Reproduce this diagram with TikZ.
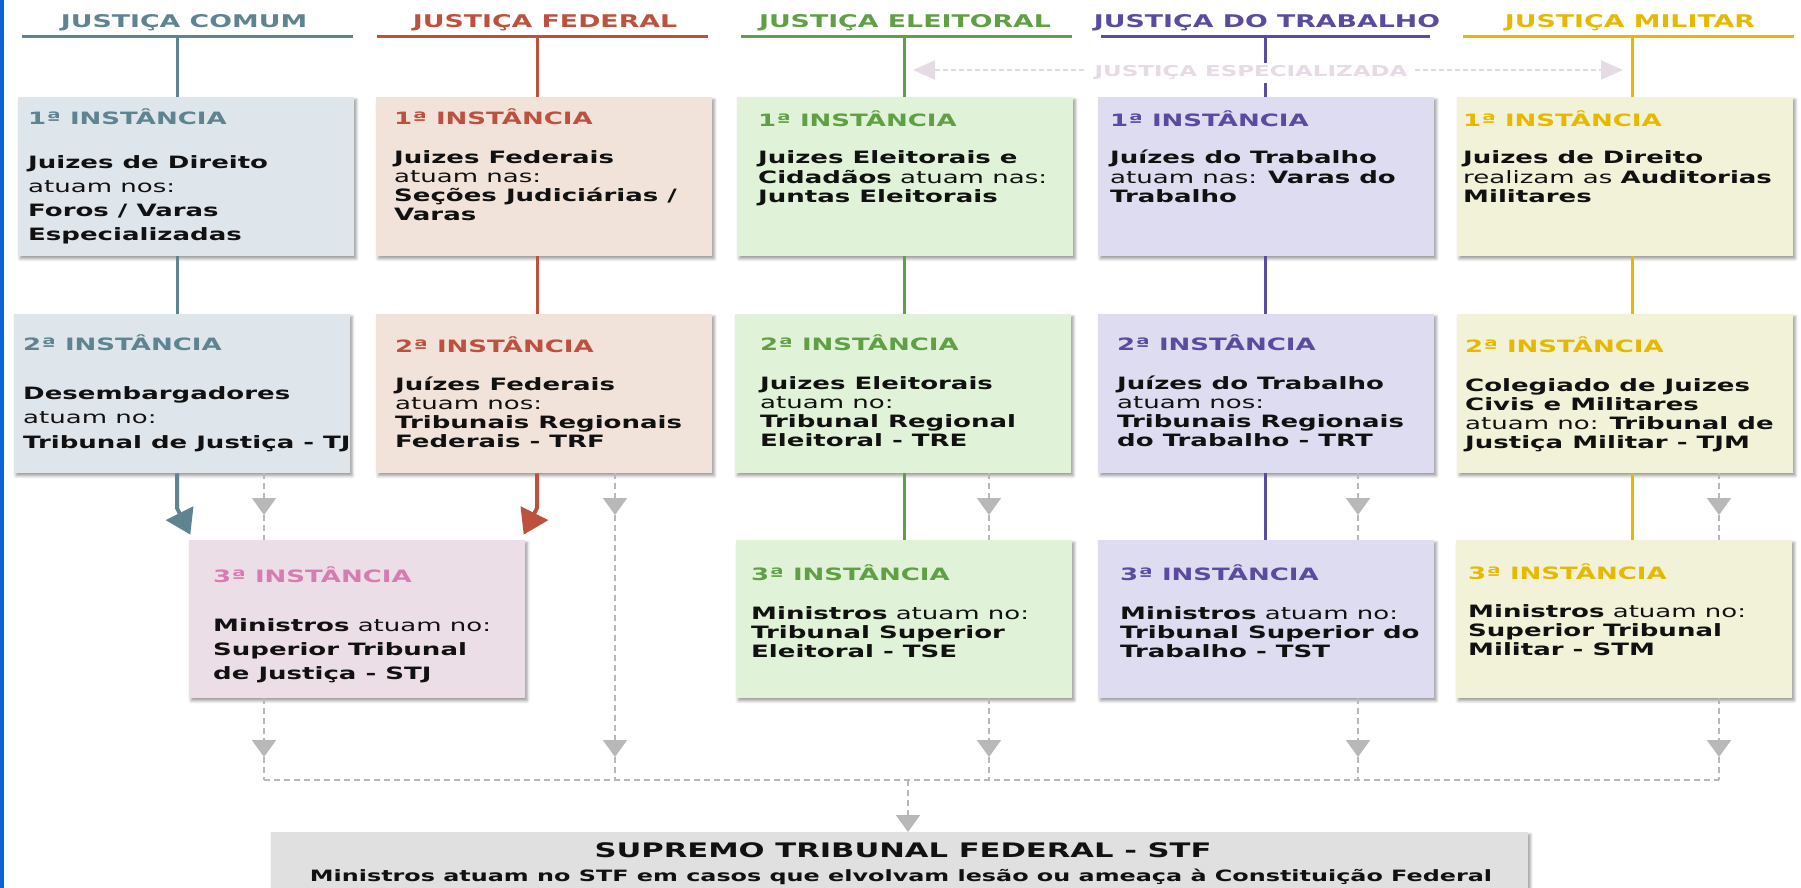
\documentclass[tikz,border=0pt]{standalone}
\usepackage{fontspec}
\setmainfont[FakeStretch=1.53]{DejaVu Sans}
\usetikzlibrary{arrows.meta,shadows.blur}
\definecolor{comumc}{RGB}{94,131,145}
\definecolor{federalc}{RGB}{190,80,62}
\definecolor{eleitc}{RGB}{96,160,68}
\definecolor{trabc}{RGB}{90,74,160}
\definecolor{milc}{RGB}{230,184,0}
\definecolor{stjc}{RGB}{214,124,176}
\definecolor{comumf}{RGB}{222,229,235}
\definecolor{federalf}{RGB}{241,227,218}
\definecolor{eleitf}{RGB}{224,242,215}
\definecolor{trabf}{RGB}{221,220,240}
\definecolor{milf}{RGB}{242,242,216}
\definecolor{stjf}{RGB}{236,222,230}
\definecolor{stff}{RGB}{224,224,224}
\definecolor{dgray}{RGB}{184,184,184}
\definecolor{espc}{RGB}{230,218,228}
\definecolor{leftblue}{RGB}{10,100,215}
\definecolor{bodyc}{RGB}{17,17,17}
\newcommand\bl[2]{\vtop{\baselineskip=#1pt\lineskiplimit=-50pt\lineskip=0pt\halign{##\hfil\cr#2\crcr}}}
\tikzset{
  box/.style={fill=#1, draw=none, minimum width=336pt, minimum height=159pt, anchor=north west, inner sep=0pt,
    blur shadow={shadow xshift=2pt, shadow yshift=-2.5pt, shadow blur radius=3pt, shadow opacity=40}},
  ttl/.style={anchor=base west, inner sep=0pt, font=\bfseries\fontsize{17}{19}\selectfont},
  txt/.style={anchor=base west, inner sep=0pt, text=bodyc, font=\fontsize{17}{19}\selectfont},
  hdr/.style={anchor=base, inner sep=0pt, font=\bfseries\fontsize{17.5}{20}\selectfont},
  conn/.style={line width=3pt},
  gdash/.style={draw=dgray, line width=2pt, dash pattern=on 6pt off 4pt},
  garrow/.style={gdash, -{Triangle[width=24pt,length=17pt]}},
  sarrow/.style={line width=4pt, -{Triangle[width=30pt,length=24pt]}, shorten >=6pt},
}
\begin{document}
\begin{tikzpicture}[x=1pt,y=-1pt]
\path[use as bounding box] (0,0) rectangle (1801,888);
\fill[leftblue] (0,0) rectangle (4,888);

% headers
\node[hdr, text=comumc] (hC) at (184,28) {JUSTIÇA COMUM};
\node[hdr, text=federalc] (hF) at (545,28) {JUSTIÇA FEDERAL};
\node[hdr, text=eleitc] (hE) at (905,28) {JUSTIÇA ELEITORAL};
\node[hdr, text=trabc] (hT) at (1267,28) {JUSTIÇA DO TRABALHO};
\node[hdr, text=milc] (hM) at (1630,28) {JUSTIÇA MILITAR};
\draw[conn, comumc] (22,37) -- (353,37);
\draw[conn, federalc] (377,37) -- (708,37);
\draw[conn, eleitc] (741,37) -- (1072,37);
\draw[conn, trabc] (1101,37) -- (1430,37);
\draw[conn, milc] (1463,37) -- (1794,37);
\coordinate (vC) at (177,37);
\coordinate (vF) at (537,37);
\coordinate (vE) at (904,37);
\coordinate (vT) at (1265,37);
\coordinate (vM) at (1632,37);

% boxes row 1
\node[box=comumf] (c1) at (18,97) {};
\node[box=federalf] (f1) at (376,97) {};
\node[box=eleitf] (e1) at (737,97) {};
\node[box=trabf] (t1) at (1098,97) {};
\node[box=milf] (m1) at (1457,97) {};
% row 2
\node[box=comumf] (c2) at (14,314) {};
\node[box=federalf] (f2) at (376,314) {};
\node[box=eleitf] (e2) at (735,314) {};
\node[box=trabf] (t2) at (1098,314) {};
\node[box=milf] (m2) at (1457,314) {};
% row 3
\node[box=stjf, minimum height=158pt] (stj) at (189,540) {};
\node[box=eleitf, minimum height=158pt] (e3) at (736,540) {};
\node[box=trabf, minimum height=158pt] (t3) at (1098,540) {};
\node[box=milf, minimum height=158pt] (m3) at (1456,540) {};
% STF
\node[box=stff, minimum width=1257pt, minimum height=80pt] (stf) at (271,832) {};

% solid connectors
\draw[conn, comumc] (vC) -- (c1.north -| vC);
\draw[conn, comumc] (c1.south -| vC) -- (c2.north -| vC);
\coordinate (kC) at (177,508);
\coordinate (tC) at (193,540);
\draw[sarrow, comumc] (c2.south -| vC) -- (kC) -- (tC);
\draw[conn, federalc] (vF) -- (f1.north -| vF);
\draw[conn, federalc] (f1.south -| vF) -- (f2.north -| vF);
\coordinate (kF) at (537,508);
\coordinate (tF) at (521,540);
\draw[sarrow, federalc] (f2.south -| vF) -- (kF) -- (tF);
\draw[conn, eleitc] (vE) -- (e1.north -| vE);
\draw[conn, eleitc] (e1.south -| vE) -- (e2.north -| vE);
\draw[conn, eleitc] (e2.south -| vE) -- (e3.north -| vE);
\draw[conn, trabc] (vT) -- (t1.north -| vT);
\draw[conn, trabc] (t1.south -| vT) -- (t2.north -| vT);
\draw[conn, trabc] (t2.south -| vT) -- (t3.north -| vT);
\draw[conn, milc] (vM) -- (m1.north -| vM);
\draw[conn, milc] (m1.south -| vM) -- (m2.north -| vM);
\draw[conn, milc] (m2.south -| vM) -- (m3.north -| vM);

% especializada
\coordinate (espL) at (913,70);
\coordinate (espR) at (1623,70);
\draw[draw=espc, line width=2pt, dash pattern=on 5pt off 3pt, {Triangle[width=19pt,length=22pt]}-{Triangle[width=19pt,length=22pt]}] (espL) -- (espR);
\node[anchor=base, fill=white, inner xsep=8pt, inner ysep=3pt, text=espc, font=\bfseries\fontsize{15}{17}\selectfont] (esp) at (1251,77) {JUSTIÇA ESPECIALIZADA};

% gray dashed connectors
\coordinate (gC1) at (264,515); \coordinate (gC2) at (264,757); \coordinate (gC3) at (264,780);
\coordinate (gF1) at (615,515); \coordinate (gF2) at (615,757); \coordinate (gF3) at (615,780);
\coordinate (gE1) at (989,515); \coordinate (gE2) at (989,757); \coordinate (gE3) at (989,780);
\coordinate (gT1) at (1358,515); \coordinate (gT2) at (1358,757); \coordinate (gT3) at (1358,780);
\coordinate (gM1) at (1719,515); \coordinate (gM2) at (1719,757); \coordinate (gM3) at (1719,780);
\coordinate (gS) at (908,780);
\draw[garrow] (c2.south -| gC1) -- (gC1);
\draw[gdash] (gC1) -- (stj.north -| gC1);
\draw[garrow] (stj.south -| gC1) -- (gC2);
\draw[gdash] (gC2) -- (gC3);
\draw[garrow] (f2.south -| gF1) -- (gF1);
\draw[garrow] (gF1) -- (gF2);
\draw[gdash] (gF2) -- (gF3);
\draw[garrow] (e2.south -| gE1) -- (gE1);
\draw[gdash] (gE1) -- (e3.north -| gE1);
\draw[garrow] (e3.south -| gE1) -- (gE2);
\draw[gdash] (gE2) -- (gE3);
\draw[garrow] (t2.south -| gT1) -- (gT1);
\draw[gdash] (gT1) -- (t3.north -| gT1);
\draw[garrow] (t3.south -| gT1) -- (gT2);
\draw[gdash] (gT2) -- (gT3);
\draw[garrow] (m2.south -| gM1) -- (gM1);
\draw[gdash] (gM1) -- (m3.north -| gM1);
\draw[garrow] (m3.south -| gM1) -- (gM2);
\draw[gdash] (gM2) -- (gM3);
\draw[gdash] (gC3) -- (gM3);
\draw[garrow] (gS) -- (stf.north -| gS);

% texts row 1
\node[ttl, text=comumc] (c1t) at (28,124.5) {1ª INSTÂNCIA};
\node[txt] (c1b) at (28,168) {\bl{24.3}{\textbf{Juizes de Direito}\cr atuam nos:\cr\textbf{Foros / Varas}\cr\textbf{Especializadas}}};
\node[ttl, text=federalc] (f1t) at (394,124.5) {1ª INSTÂNCIA};
\node[txt] (f1b) at (394,163) {\bl{19}{\textbf{Juizes Federais}\cr atuam nas:\cr\textbf{Seções Judiciárias /}\cr\textbf{Varas}}};
\node[ttl, text=eleitc] (e1t) at (758,126.5) {1ª INSTÂNCIA};
\node[txt] (e1b) at (758,164) {\bl{19.5}{\textbf{Juizes Eleitorais e}\cr\textbf{Cidadãos} atuam nas:\cr\textbf{Juntas Eleitorais}}};
\node[ttl, text=trabc] (t1t) at (1110,126.5) {1ª INSTÂNCIA};
\node[txt] (t1b) at (1110,164) {\bl{19.5}{\textbf{Juízes do Trabalho}\cr atuam nas: \textbf{Varas do}\cr\textbf{Trabalho}}};
\node[ttl, text=milc] (m1t) at (1463,126.5) {1ª INSTÂNCIA};
\node[txt] (m1b) at (1463,164) {\bl{19.5}{\textbf{Juizes de Direito}\cr realizam as \textbf{Auditorias}\cr\textbf{Militares}}};

% texts row 2
\node[ttl, text=comumc] (c2t) at (23,350.5) {2ª INSTÂNCIA};
\node[txt] (c2b) at (23,399) {\bl{24.5}{\textbf{Desembargadores}\cr atuam no:\cr\textbf{Tribunal de Justiça - TJ}}};
\node[ttl, text=federalc] (f2t) at (395,352.5) {2ª INSTÂNCIA};
\node[txt] (f2b) at (395,390) {\bl{19.3}{\textbf{Juízes Federais}\cr atuam nos:\cr\textbf{Tribunais Regionais}\cr\textbf{Federais - TRF}}};
\node[ttl, text=eleitc] (e2t) at (760,350.5) {2ª INSTÂNCIA};
\node[txt] (e2b) at (760,389) {\bl{19.3}{\textbf{Juizes Eleitorais}\cr atuam no:\cr\textbf{Tribunal Regional}\cr\textbf{Eleitoral - TRE}}};
\node[ttl, text=trabc] (t2t) at (1117,350.5) {2ª INSTÂNCIA};
\node[txt] (t2b) at (1117,389) {\bl{19.3}{\textbf{Juízes do Trabalho}\cr atuam nos:\cr\textbf{Tribunais Regionais}\cr\textbf{do Trabalho - TRT}}};
\node[ttl, text=milc] (m2t) at (1465,352.5) {2ª INSTÂNCIA};
\node[txt] (m2b) at (1465,391) {\bl{19.3}{\textbf{Colegiado de Juizes}\cr\textbf{Civis e Militares}\cr atuam no: \textbf{Tribunal de}\cr\textbf{Justiça Militar - TJM}}};

% texts row 3
\node[ttl, text=stjc] (stjt) at (213,582.5) {3ª INSTÂNCIA};
\node[txt] (stjb) at (213,631) {\bl{24}{\textbf{Ministros} atuam no:\cr\textbf{Superior Tribunal}\cr\textbf{de Justiça - STJ}}};
\node[ttl, text=eleitc] (e3t) at (751,580.5) {3ª INSTÂNCIA};
\node[txt] (e3b) at (751,619) {\bl{19}{\textbf{Ministros} atuam no:\cr\textbf{Tribunal Superior}\cr\textbf{Eleitoral - TSE}}};
\node[ttl, text=trabc] (t3t) at (1120,580.5) {3ª INSTÂNCIA};
\node[txt] (t3b) at (1120,619) {\bl{19}{\textbf{Ministros} atuam no:\cr\textbf{Tribunal Superior do}\cr\textbf{Trabalho - TST}}};
\node[ttl, text=milc] (m3t) at (1468,579.5) {3ª INSTÂNCIA};
\node[txt] (m3b) at (1468,617) {\bl{19}{\textbf{Ministros} atuam no:\cr\textbf{Superior Tribunal}\cr\textbf{Militar - STM}}};

% STF texts
\node[anchor=base, inner sep=0pt, text=bodyc, font=\bfseries\fontsize{20}{23}\selectfont] (stft) at (903,857) {SUPREMO TRIBUNAL FEDERAL - STF};
\node[anchor=base, inner sep=0pt, text=bodyc, font=\bfseries\fontsize{15.6}{18}\selectfont] (stfs) at (901,881) {Ministros atuam no STF em casos que elvolvam lesão ou ameaça à Constituição Federal};
\end{tikzpicture}
\end{document}
